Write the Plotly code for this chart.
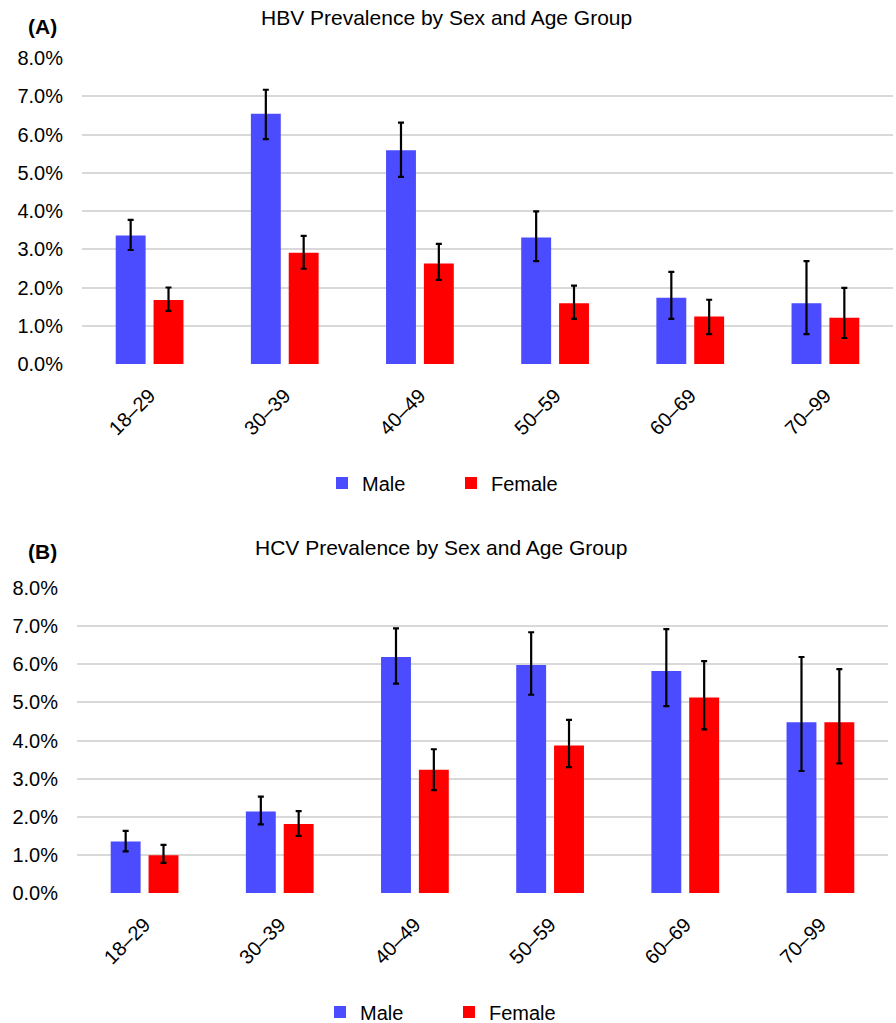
import plotly.graph_objects as go

age_groups = ["18–29", "30–39", "40–49", "50–59", "60–69", "70–99"]

# HBV prevalence (fraction) with 95% CI bounds
hbv_male = [0.0336, 0.0654, 0.0559, 0.0331, 0.0173, 0.0159]
hbv_male_lo = [0.0298, 0.0588, 0.0489, 0.0269, 0.0118, 0.0078]
hbv_male_hi = [0.0377, 0.0717, 0.0631, 0.0399, 0.0241, 0.0269]
hbv_female = [0.0167, 0.0291, 0.0263, 0.0159, 0.0124, 0.0121]
hbv_female_lo = [0.0139, 0.0249, 0.0220, 0.0118, 0.0078, 0.0068]
hbv_female_hi = [0.0200, 0.0335, 0.0314, 0.0205, 0.0168, 0.0199]

# HCV prevalence (fraction) with 95% CI bounds
hcv_male = [0.0135, 0.0214, 0.0619, 0.0598, 0.0582, 0.0448]
hcv_male_lo = [0.0109, 0.0180, 0.0549, 0.0520, 0.0490, 0.0320]
hcv_male_hi = [0.0163, 0.0253, 0.0694, 0.0684, 0.0692, 0.0619]
hcv_female = [0.0099, 0.0181, 0.0323, 0.0387, 0.0513, 0.0448]
hcv_female_lo = [0.0079, 0.0150, 0.0270, 0.0330, 0.0429, 0.0340]
hcv_female_hi = [0.0126, 0.0215, 0.0377, 0.0454, 0.0608, 0.0587]

MALE_COLOR = "#4B4BFF"
FEMALE_COLOR = "#FF0000"
FONT = "Liberation Sans, Arial, sans-serif"


def err(vals, lo, hi):
    return dict(
        type="data",
        symmetric=False,
        array=[h - v for v, h in zip(vals, hi)],
        arrayminus=[v - l for v, l in zip(vals, lo)],
        color="black",
        thickness=2.2,
        width=3,
    )


fig = go.Figure()

panels = [
    ("x", "y", "legend", hbv_male, hbv_male_lo, hbv_male_hi,
     hbv_female, hbv_female_lo, hbv_female_hi),
    ("x2", "y2", "legend2", hcv_male, hcv_male_lo, hcv_male_hi,
     hcv_female, hcv_female_lo, hcv_female_hi),
]
for xa, ya, lg, m, mlo, mhi, f, flo, fhi in panels:
    fig.add_trace(go.Bar(x=age_groups, y=m, name="Male", marker_color=MALE_COLOR,
                         marker_line_width=0,
                         error_y=err(m, mlo, mhi), xaxis=xa, yaxis=ya, legend=lg))
    fig.add_trace(go.Bar(x=age_groups, y=f, name="Female", marker_color=FEMALE_COLOR,
                         marker_line_width=0,
                         error_y=err(f, flo, fhi), xaxis=xa, yaxis=ya, legend=lg))

yaxis_style = dict(
    range=[0, 0.08], dtick=0.01, tickformat=".1%",
    showgrid=True, gridcolor="#D9D9D9", gridwidth=1.5,
    zeroline=False, showline=False, ticks="",
    ticklabelstandoff=18,
    tickfont=dict(size=20, color="black", family=FONT),
)
xaxis_style = dict(
    type="category", tickangle=-45, showline=False, showgrid=False,
    zeroline=False, ticks="", ticklabelstandoff=15,
    tickfont=dict(size=20, color="black", family=FONT),
)

legend_style = dict(
    orientation="h", xanchor="left", yanchor="middle",
    font=dict(size=20, color="black", family=FONT),
    bgcolor="rgba(0,0,0,0)", entrywidth=84, entrywidthmode="pixels",
)


def label(text, x, y, size=21, xanchor="center"):
    return dict(text=text, x=x / 896, y=1 - y / 1023, xref="paper", yref="paper",
                xanchor=xanchor, yanchor="middle", showarrow=False,
                font=dict(size=size, color="black", family=FONT))


fig.update_layout(
    width=896, height=1023,
    margin=dict(l=0, r=0, t=0, b=0, autoexpand=False),
    paper_bgcolor="white", plot_bgcolor="white",
    font=dict(family=FONT, color="black"),
    barmode="group", bargap=0.44, bargroupgap=0.21,
    xaxis=dict(domain=[82 / 896, 893 / 896], anchor="y", **xaxis_style),
    yaxis=dict(domain=[1 - 364 / 1023, 1 - 58 / 1023], anchor="x", **yaxis_style),
    xaxis2=dict(domain=[77 / 896, 888 / 896], anchor="y2", **xaxis_style),
    yaxis2=dict(domain=[1 - 893 / 1023, 1 - 588 / 1023], anchor="x2", **yaxis_style),
    legend=dict(x=322 / 896, y=1 - 483 / 1023, **legend_style),
    legend2=dict(x=320 / 896, y=1 - 1012 / 1023, **legend_style),
    annotations=[
        label("HBV Prevalence by Sex and Age Group", 446, 18),
        label("<b>(A)</b>", 26, 27, xanchor="left"),
        label("HCV Prevalence by Sex and Age Group", 441, 547),
        label("<b>(B)</b>", 26, 551, xanchor="left"),
    ],
)

fig.write_html("out.html")
